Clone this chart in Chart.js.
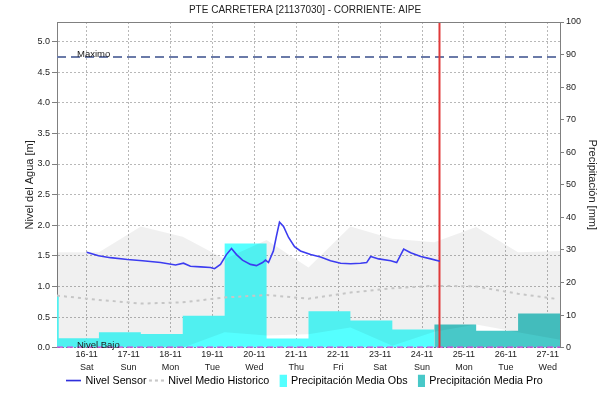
<!DOCTYPE html>
<html lang="es">
<head>
    <meta charset="UTF-8">
    <title>PTE CARRETERA [21137030] - CORRIENTE: AIPE</title>
    <script src="https://cdn.jsdelivr.net/npm/chart.js@4.4.1/dist/chart.umd.min.js"></script>
    <style>
        body { margin: 0; background: #fff; }
        #wrap { width: 610px; height: 402px; }
    </style>
</head>
<body>
<div id="wrap"><canvas id="nivel" width="610" height="402"></canvas></div>
<script>
    // tiempo en horas contadas desde 16-11 00:00
    const dayTicks = [0, 24, 48, 72, 96, 120, 144, 168, 192, 216, 240, 264];
    const dayLabels = [
        ['16-11', 'Sat'], ['17-11', 'Sun'], ['18-11', 'Mon'], ['19-11', 'Tue'],
        ['20-11', 'Wed'], ['21-11', 'Thu'], ['22-11', 'Fri'], ['23-11', 'Sat'],
        ['24-11', 'Sun'], ['25-11', 'Mon'], ['26-11', 'Tue'], ['27-11', 'Wed']
    ];
    const levelTicks = [0, 0.5, 1, 1.5, 2, 2.5, 3, 3.5, 4, 4.5, 5];
    const precipTicks = [0, 10, 20, 30, 40, 50, 60, 70, 80, 90, 100];

    // Nivel Sensor [m]
    const sensorHours = [0, 6.8, 13.6, 23.4, 32, 42.3, 50.9, 55.4, 59.4, 65.2, 70.9, 73.2, 76.6, 80, 82.9,
        85.8, 89.2, 93.8, 97.2, 100.7, 102.4, 104.1, 106.9, 108.7, 110.4, 112.7, 115.6, 119, 122.4,
        128.2, 133.9, 139.6, 145.4, 151.1, 156.8, 160.3, 162.6, 167.2, 174.1, 177.5, 181.5, 185.5,
        191.3, 197, 202.2];
    const sensorLevel = [1.56, 1.5, 1.47, 1.44, 1.42, 1.39, 1.35, 1.38, 1.33, 1.32, 1.31, 1.29, 1.36, 1.52, 1.62,
        1.52, 1.43, 1.36, 1.34, 1.39, 1.43, 1.39, 1.58, 1.83, 2.05, 1.98, 1.8, 1.65, 1.58,
        1.52, 1.48, 1.42, 1.38, 1.37, 1.38, 1.39, 1.49, 1.45, 1.42, 1.39, 1.61, 1.55,
        1.49, 1.45, 1.41];

    // banda historica diaria (07:00) [m]
    const dailyHours = [-17, 7, 31, 55, 79, 103, 127, 151, 175, 199, 223, 247, 271];
    const histUpper = [1.56, 1.56, 1.98, 1.81, 1.45, 1.76, 1.31, 1.98, 1.78, 1.72, 1.97, 1.56, 1.58];
    const histLower = [0, 0, 0, 0, 0.25, 0.2, 0.22, 0.33, 0.03, 0.26, 0.38, 0.25, 0.13];
    const meanHours = [-17, 7, 31, 55, 79, 103, 127, 151, 175, 199, 223, 247, 268];
    const histMean = [0.85, 0.78, 0.72, 0.74, 0.82, 0.86, 0.8, 0.9, 0.97, 1.01, 1.0, 0.88, 0.8];

    // precipitacion diaria [mm], bordes de cada barra
    const obsHours = [-17, -16, 7, 31, 55, 79, 103, 127, 151, 175, 199];
    const obsPrecip = [15.8, 2.9, 4.7, 4.2, 9.8, 32.0, 2.8, 11.2, 8.3, 5.6];
    const proHours = [199, 223, 247, 271];
    const proPrecip = [7.1, 5.2, 10.5];

    const nivelMaximo = 4.75;
    const nivelBajo = 0;
    const ahora = 202;
    const xMin = -17, xMax = 271, yMax = 5.32;

    const FONT = '"Liberation Sans", Arial, sans-serif';
    Chart.defaults.font.family = FONT;
    Chart.defaults.color = '#222';

    function pts(xs, ys) {
        return xs.map((x, i) => ({x: x, y: ys[i]}));
    }
    function stepPts(edges, vals) {
        return edges.map((x, i) => ({x: x, y: vals[Math.min(i, vals.length - 1)]}));
    }

    // iconos de la leyenda
    function icono(w, h, draw) {
        const c = document.createElement('canvas');
        c.width = w; c.height = h;
        draw(c.getContext('2d'));
        return c;
    }
    const icoSensor = icono(15, 3, g => {
        g.strokeStyle = '#1a1ad8'; g.lineWidth = 1.5;
        g.beginPath(); g.moveTo(0, 1.5); g.lineTo(15, 1.5); g.stroke();
    });
    const icoMedio = icono(15, 3, g => {
        g.strokeStyle = '#c4c4c4'; g.lineWidth = 2; g.setLineDash([3, 3]);
        g.beginPath(); g.moveTo(0, 1.5); g.lineTo(15, 1.5); g.stroke();
    });
    const icoObs = icono(15, 13, g => { g.fillStyle = '#55ffff'; g.fillRect(8, 0, 7, 13); });
    const icoPro = icono(15, 13, g => { g.fillStyle = '#48c8c8'; g.fillRect(8, 0, 7, 13); });

    const marcas = {
        id: 'marcas',
        afterDatasetsDraw(chart) {
            const {ctx, chartArea: a, scales: {y}} = chart;
            ctx.save();
            ctx.strokeStyle = '#808080';
            ctx.lineWidth = 1;
            ctx.beginPath();
            ctx.moveTo(a.left, a.top + 0.5);
            ctx.lineTo(a.right, a.top + 0.5);
            ctx.stroke();
            ctx.fillStyle = '#1a1a1a';
            ctx.font = '9.5px ' + FONT;
            ctx.fillText('Maximo', a.left + 20, y.getPixelForValue(nivelMaximo) - 2.5);
            ctx.fillText('Nivel Bajo', a.left + 20, y.getPixelForValue(nivelBajo) - 2.5);
            ctx.restore();
        }
    };

    const noLine = 'rgba(0,0,0,0)';

    new Chart(document.getElementById('nivel'), {
        type: 'line',
        data: {
            datasets: [
                {label: 'Nivel Sensor', data: pts(sensorHours, sensorLevel), yAxisID: 'y',
                    borderColor: '#3c3cf0', borderWidth: 1.6, order: 0},
                {label: 'ahora', data: [{x: ahora, y: 0}, {x: ahora, y: yMax}], yAxisID: 'y',
                    borderColor: '#e03a3a', borderWidth: 2, order: 1},
                {label: 'ahora marca', data: [{x: ahora, y: 0}, {x: ahora, y: yMax}], yAxisID: 'y',
                    borderColor: '#a01c1c', borderWidth: 1, borderDash: [2, 6], order: 1},
                {label: 'Maximo', data: [{x: xMin, y: nivelMaximo}, {x: xMax, y: nivelMaximo}], yAxisID: 'y',
                    borderColor: '#6a7aa8', borderWidth: 2, borderDash: [9, 5], order: 2},
                {label: 'Nivel Bajo', data: [{x: xMin, y: nivelBajo}, {x: xMax, y: nivelBajo}], yAxisID: 'y',
                    borderColor: '#e040e0', borderWidth: 2.5, borderDash: [6, 4], order: 3},
                {label: 'Nivel Medio Historico', data: pts(meanHours, histMean), yAxisID: 'y',
                    borderColor: '#c6c6c6', borderWidth: 2, borderDash: [3, 4], order: 4},
                {label: 'banda sup', data: pts(dailyHours, histUpper), yAxisID: 'y',
                    borderColor: noLine, borderWidth: 0, fill: '+1', backgroundColor: 'rgba(0,0,0,0.06)', order: 5},
                {label: 'banda inf', data: pts(dailyHours, histLower), yAxisID: 'y',
                    borderColor: noLine, borderWidth: 0, order: 6},
                {label: 'Precipitación Media Pro', data: stepPts(proHours, proPrecip), yAxisID: 'y1',
                    stepped: 'before', fill: 'origin', backgroundColor: '#48c8c8',
                    borderColor: noLine, borderWidth: 0, order: 7},
                {label: 'Precipitación Media Obs', data: stepPts(obsHours, obsPrecip), yAxisID: 'y1',
                    stepped: 'before', fill: 'origin', backgroundColor: '#55ffff',
                    borderColor: noLine, borderWidth: 0, order: 8}
            ]
        },
        options: {
            responsive: false,
            animation: false,
            devicePixelRatio: 1,
            layout: {padding: {top: 0, left: 0, right: 0, bottom: 6}},
            elements: {point: {radius: 0}, line: {tension: 0}},
            plugins: {
                tooltip: {enabled: false},
                title: {
                    display: true,
                    text: 'PTE CARRETERA [21137030] - CORRIENTE: AIPE',
                    font: {size: 10, weight: 'normal'},
                    color: '#222',
                    padding: {top: 4, bottom: 6}
                },
                legend: {
                    position: 'bottom',
                    labels: {
                        usePointStyle: true,
                        pointStyleWidth: 13,
                        padding: 0.4,
                        font: {size: 10.75},
                        color: '#222',
                        generateLabels: () => [
                            {text: 'Nivel Sensor ', pointStyle: icoSensor, datasetIndex: 0},
                            {text: 'Nivel Medio Historico ', pointStyle: icoMedio, datasetIndex: 5},
                            {text: 'Precipitación Media Obs ', pointStyle: icoObs, datasetIndex: 9},
                            {text: 'Precipitación Media Pro', pointStyle: icoPro, datasetIndex: 8}
                        ].map(it => Object.assign(it, {fillStyle: noLine, strokeStyle: noLine, lineWidth: 0, hidden: false}))
                    }
                }
            },
            scales: {
                x: {
                    type: 'linear',
                    min: xMin,
                    max: xMax,
                    afterBuildTicks: s => { s.ticks = dayTicks.map(v => ({value: v})); },
                    ticks: {
                        callback: (v, i) => dayLabels[i],
                        font: {size: 9, lineHeight: 1.4},
                        color: '#222',
                        padding: 1,
                        maxRotation: 0,
                        autoSkip: false
                    },
                    grid: {color: '#b8b8b8', drawTicks: false},
                    border: {display: false, dash: [2, 2]}
                },
                y: {
                    position: 'left',
                    min: 0,
                    max: yMax,
                    afterBuildTicks: s => { s.ticks = levelTicks.map(v => ({value: v})); },
                    afterFit: s => { s.width = 57; },
                    ticks: {callback: v => v.toFixed(1), font: {size: 9}, color: '#222', padding: 2},
                    grid: {
                        color: c => (c.tick && c.tick.value === 0 ? '#555' : '#b8b8b8'),
                        tickColor: '#808080',
                        tickLength: 5
                    },
                    border: {color: '#808080', dash: [2, 2]},
                    title: {
                        display: true, text: 'Nivel del Agua [m]', font: {size: 11}, color: '#222',
                        padding: {top: 23, bottom: 0}
                    }
                },
                y1: {
                    position: 'right',
                    min: 0,
                    max: 100,
                    afterBuildTicks: s => { s.ticks = precipTicks.map(v => ({value: v})); },
                    afterFit: s => { s.width = 50; },
                    ticks: {font: {size: 9}, color: '#222', padding: 2},
                    grid: {drawOnChartArea: false, tickColor: '#808080', tickLength: 4},
                    border: {color: '#808080'},
                    title: {
                        display: true, text: 'Precipitación [mm]', font: {size: 11}, color: '#222',
                        padding: {top: 11, bottom: 0}
                    }
                }
            }
        },
        plugins: [marcas]
    });
</script>
</body>
</html>
